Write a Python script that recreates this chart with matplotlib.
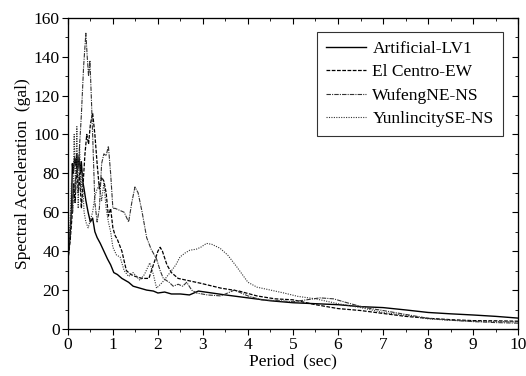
import numpy as np
import matplotlib.pyplot as plt

plt.rcParams['font.family'] = 'Liberation Serif'

# Artificial-LV1
t_art = [0, 0.05, 0.08, 0.1, 0.12, 0.15, 0.18, 0.2, 0.22, 0.25, 0.28, 0.3, 0.33, 0.36, 0.4,
         0.45, 0.5, 0.55, 0.6, 0.65, 0.72, 0.8, 0.88, 0.95, 1.02, 1.1, 1.2, 1.35, 1.45, 1.6,
         1.75, 1.9, 2.0, 2.15, 2.3, 2.5, 2.7, 2.9, 3.2, 3.5, 4.0, 4.5, 5.0, 5.5, 6.0, 6.5,
         7.0, 7.5, 8.0, 8.5, 9.0, 9.5, 10.0]
a_art = [35, 48, 62, 85, 80, 88, 84, 90, 82, 88, 80, 86, 76, 72, 66,
         60, 55, 57, 50, 47, 44, 40, 36, 33, 29, 28, 26, 24, 22, 21,
         20, 19.5, 18.5, 19, 18, 18, 17.5, 19.5, 18.5, 17.5, 16, 14.5, 13.5, 13, 12.5, 11.5,
         11, 9.8, 8.5, 7.8, 7.2, 6.5, 5.6]

# El Centro-EW
t_elc = [0, 0.05, 0.1, 0.13, 0.16, 0.2, 0.23, 0.26, 0.3, 0.34, 0.38, 0.42, 0.46, 0.5, 0.55,
         0.6, 0.65, 0.7, 0.75, 0.8, 0.85, 0.9, 0.95, 1.0, 1.05, 1.1, 1.2, 1.3, 1.4, 1.5,
         1.65, 1.8, 1.9, 2.0, 2.05, 2.1, 2.2, 2.3, 2.45, 2.65, 2.95, 3.4, 3.8, 4.2, 4.6,
         5.0, 5.5, 6.0, 6.5, 7.0, 7.5, 8.0, 8.5, 9.0, 9.5, 10.0]
a_elc = [35, 45, 60, 75, 65, 85, 70, 80, 62, 75, 90, 100, 95, 105, 111,
         100, 85, 72, 78, 76, 70, 58, 62, 52, 48, 46, 40, 30, 28, 27,
         26, 26, 33, 40, 42, 40, 33, 29, 26, 25, 23.5, 21, 19.5, 17, 15.5,
         15, 12.5, 10.5, 9.5, 8, 6.5, 5.5, 4.8, 4.3, 4.2, 4.0]

# WufengNE-NS
t_wuf = [0, 0.05, 0.1, 0.15, 0.2, 0.25, 0.3, 0.35, 0.4, 0.43, 0.46, 0.49, 0.52, 0.55, 0.6,
         0.65, 0.7, 0.75, 0.8, 0.85, 0.9, 0.95, 1.0, 1.05, 1.15, 1.25, 1.35, 1.42, 1.49,
         1.56, 1.65, 1.75, 1.85, 1.97, 2.05, 2.12, 2.25, 2.34, 2.45, 2.55, 2.64, 2.75, 2.86,
         3.1, 3.4, 3.7, 4.0, 4.3, 4.7, 5.0, 5.3, 5.6, 5.9, 6.2, 6.6, 7.0, 7.5, 8.0, 8.5,
         9.0, 9.5, 10.0]
a_wuf = [36, 50, 65, 75, 80, 90, 110, 135, 152, 140, 130, 138, 120, 100, 65,
         55, 62, 85, 90, 89, 94, 80, 62, 62, 61, 60, 55, 65, 73,
         70, 60, 47, 41, 36, 30, 26, 24, 22, 23, 22, 24, 20, 18.5,
         17.5, 17, 20, 17, 15, 14.5, 14, 15, 16, 15.5, 13.5, 11, 9.5, 7.5, 5.5, 4.5,
         3.8, 3.3, 3.0]

# YunlincitySE-NS
t_yun = [0, 0.05, 0.08, 0.11, 0.14, 0.17, 0.2, 0.23, 0.26, 0.29, 0.32, 0.36, 0.4, 0.45,
         0.5, 0.55, 0.6, 0.65, 0.7, 0.75, 0.8, 0.85, 0.9, 0.95, 1.0, 1.08, 1.16, 1.25,
         1.35, 1.45, 1.6, 1.7, 1.82, 1.9, 1.97, 2.1, 2.27, 2.4, 2.49, 2.6, 2.71, 2.85,
         2.95, 3.08, 3.2, 3.38, 3.55, 3.75, 4.0, 4.2, 4.5, 4.8, 5.1, 5.5, 6.0, 6.5, 7.0,
         7.5, 8.0, 8.5, 9.0, 9.5, 10.0]
a_yun = [38, 55, 75, 60, 100, 70, 104, 62, 95, 70, 80, 60, 55, 52,
         56, 60, 68, 72, 74, 66, 75, 62, 55, 50, 42, 38, 37, 30,
         27, 29, 25, 28, 34, 28, 21, 24, 29, 33, 37, 39, 40.5, 41,
         42, 44, 43.5, 41.5, 38, 32, 24, 21.5, 20, 18.5, 16.8, 15.5, 13, 11, 8.5,
         7, 5.2, 4.5, 4.0, 3.8, 3.6]

fs = 12.5

fig = plt.figure(figsize=(5.26, 3.76), dpi=100)
ax = fig.add_axes([0.129, 0.125, 0.856, 0.828])

ax.plot(t_art, a_art, color='black', lw=1.0, ls='-', label='Artificial-LV1')
ax.plot(t_elc, a_elc, color='black', lw=0.9, ls=(0, (3, 1.2)), label='El Centro-EW')
ax.plot(t_wuf, a_wuf, color='#333333', lw=0.8, ls=(0, (4, 1, 1, 1)), label='WufengNE-NS')
ax.plot(t_yun, a_yun, color='#333333', lw=0.8, ls=(0, (1, 1.2)), label='YunlincitySE-NS')

ax.set_xlim(0, 10)
ax.set_ylim(0, 160)
ax.set_xticks(np.arange(0, 11, 1))
ax.set_yticks(np.arange(0, 161, 20))
ax.set_xticks(np.arange(0, 10.01, 0.5), minor=True)
ax.set_yticks(np.arange(0, 161, 10), minor=True)
ax.tick_params(which='both', direction='out', labelsize=fs, top=False, right=False, pad=2)
ax.tick_params(which='major', length=4)
ax.tick_params(which='minor', length=2)

# inward ticks on top and right
ax2 = ax.twinx()
ax2.set_ylim(0, 160)
ax2.set_yticks(np.arange(0, 161, 20))
ax2.set_yticks(np.arange(0, 161, 10), minor=True)
ax2.tick_params(which='both', direction='in', labelright=False)
ax2.tick_params(which='major', length=4)
ax2.tick_params(which='minor', length=2)
ax3 = ax.twiny()
ax3.set_xlim(0, 10)
ax3.set_xticks(np.arange(0, 11, 1))
ax3.set_xticks(np.arange(0, 10.01, 0.5), minor=True)
ax3.tick_params(which='both', direction='in', labeltop=False)
ax3.tick_params(which='major', length=4)
ax3.tick_params(which='minor', length=2)

ax.set_xlabel('Period  (sec)', fontsize=fs, labelpad=0)
ax.set_ylabel('Spectral Acceleration  (gal)', fontsize=fs, labelpad=2)

leg = ax.legend(loc='upper right', bbox_to_anchor=(0.967, 0.955), borderaxespad=0,
                fontsize=fs, frameon=True, fancybox=False, edgecolor='black',
                handlelength=2.3, handletextpad=0.35, labelspacing=0.4, borderpad=0.55)
leg.get_frame().set_linewidth(0.8)

fig.savefig('out.png', dpi=100)
